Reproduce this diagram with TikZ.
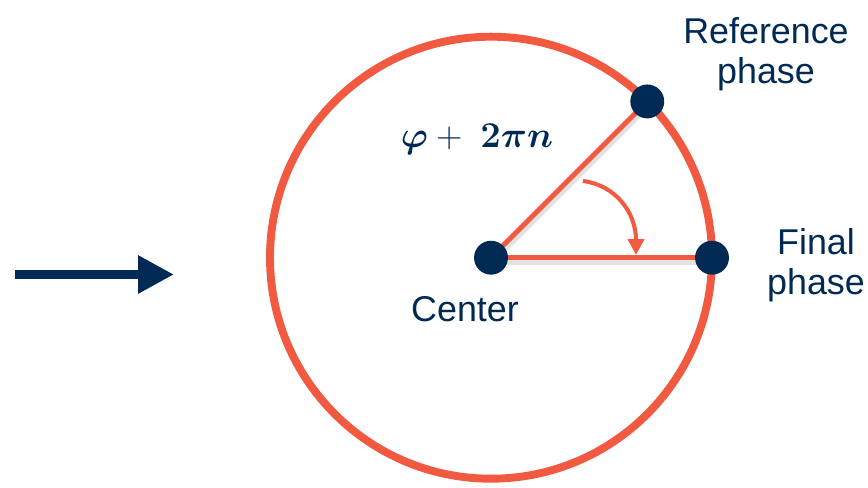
\documentclass[tikz,border=0pt]{standalone}
\usepackage{amsmath,bm}
\usepackage{fontspec}
\setmainfont{Liberation Sans}
\usetikzlibrary{positioning,arrows.meta,calc,backgrounds}
\definecolor{phNavy}{RGB}{0,41,84}
\definecolor{phRed}{RGB}{241,90,64}

\begin{document}
\begin{tikzpicture}[x=0.02cm, y=0.02cm,
  font=\fontsize{20.4}{24.5}\selectfont,
  dot/.style={circle, fill=phNavy, inner sep=0pt, minimum size=19.3pt},
  ray/.style={phRed, line width=2.8pt},
  rayshadow/.style={gray!22, line width=2.8pt},
  lbl/.style={text=phNavy, align=center, inner sep=0pt}]
% 画布：868 x 487 像素
\useasboundingbox (0,0) rectangle (868,487);
\def\R{221}
% 圆周
\coordinate (ctrpt) at (491,229.3);
\draw[phRed, line width=4.5pt] (ctrpt) circle (\R);
\node[dot] (ctr) at (ctrpt) {};
\node[dot] (ref) at ($(ctrpt)+(45:\R)$) {};
\node[dot] (fin) at ($(ctrpt)+(\R,0)$) {};
% 半径（置于圆点之下）
\begin{pgfonlayer}{background}
\draw[rayshadow] ($(ctr.center)+(2,-4)$) -- ($(ref.center)+(2,-4)$);
\draw[rayshadow] ($(ctr.center)+(0,-5)$) -- ($(fin.center)+(0,-5)$);
\draw[ray] (ctr.center) -- (ref.center);
\draw[ray] (ctr.center) -- (fin.center);
\end{pgfonlayer}
% 旋转箭头
\coordinate (rotS) at (583,306);
\coordinate (rotE) at (636,232);
\draw[phRed, line width=2.3pt, -{Triangle[length=9pt, width=9pt]}]
  (rotS) .. controls (615,302) and (636,275) .. (rotE);
% 标签
\node[lbl, font=\fontsize{20.5}{24}\selectfont] (phs) at (477,348)
  {$\bm{\varphi}+\ \bm{2\pi n}$};
\node[lbl] (ctrlbl) at (465,178) {Center};
\node[lbl] (reflbl) at (766,433) {Reference\\[-2pt]phase};
\node[lbl] (finlbl) at (816,222) {Final\\[-2pt]phase};
% 左侧箭头
\coordinate (arrS) at (15,212.5);
\coordinate (arrE) at (174,212.5);
\draw[phNavy, line width=5.1pt, -{Triangle[length=20.4pt, width=20.4pt]}] (arrS) -- (arrE);
\end{tikzpicture}
\end{document}
